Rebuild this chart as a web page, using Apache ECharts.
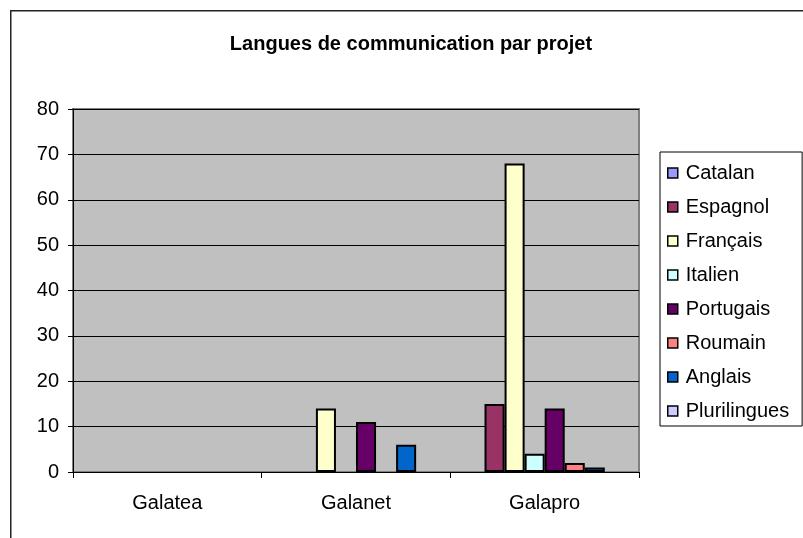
<!DOCTYPE html>
<html>
<head>
<meta charset="utf-8">
<script src="https://cdn.jsdelivr.net/npm/echarts@6/dist/echarts.min.js"></script>
<style>
html,body{margin:0;padding:0;background:#fff;}
#chart{width:803px;height:538px;}
</style>
</head>
<body>
<div id="chart"></div>
<script>
var categories = ['Galatea', 'Galanet', 'Galapro'];
var seriesNames = ['Catalan', 'Espagnol', 'Français', 'Italien', 'Portugais', 'Roumain', 'Anglais', 'Plurilingues'];
var catalan = [null, null, null];
var espagnol = [null, null, 15];
var francais = [null, 14, 68];
var italien = [null, null, 4];
var portugais = [null, 11, 14];
var roumain = [null, null, 2];
var anglais = [null, 6, 1];
var plurilingues = [null, null, null];
var yTicks = [0, 10, 20, 30, 40, 50, 60, 70, 80];

var values = [catalan, espagnol, francais, italien, portugais, roumain, anglais, plurilingues];
var colors = ['#9999FF', '#993366', '#FFFFCC', '#CCFFFF', '#660066', '#FF8080', '#0066CC', '#CCCCFF'];
var FONT = '"Liberation Sans", Arial, sans-serif';

var chart = echarts.init(document.getElementById('chart'), null, {renderer: 'canvas'});
var series = seriesNames.map(function (n, i) {
  return {
    name: n,
    type: 'bar',
    data: values[i],
    barGap: '0%',
    barCategoryGap: '15%',
    itemStyle: {color: colors[i], borderColor: '#000', borderWidth: 2},
    emphasis: {disabled: true},
    animation: false
  };
});

chart.setOption({
  animation: false,
  textStyle: {fontFamily: FONT},
  title: {
    text: 'Langues de communication par projet',
    left: 406, top: 29, textAlign: 'center',
    textStyle: {fontFamily: FONT, fontSize: 20, fontWeight: 'bold', color: '#000'}
  },
  graphic: [{
    type: 'rect', left: 10, top: 10, z: -10,
    shape: {x: 0, y: 0, width: 820, height: 560},
    style: {fill: '#fff', stroke: '#222', lineWidth: 1.5}
  }],
  legend: {
    orient: 'vertical',
    left: 660, top: 152,
    padding: [10, 13, 4, 7],
    itemWidth: 10, itemHeight: 10,
    itemGap: 12,
    borderColor: '#000', borderWidth: 1,
    backgroundColor: '#fff',
    icon: 'rect',
    itemStyle: {borderColor: '#000', borderWidth: 1.5},
    textStyle: {fontFamily: FONT, fontSize: 20, color: '#000', lineHeight: 22, padding: [0, 0, 0, 3]},
    data: seriesNames
  },
  grid: {
    left: 73, top: 109, right: 164, bottom: 66,
    show: true, backgroundColor: '#C0C0C0', borderColor: '#808080', borderWidth: 2
  },
  xAxis: {
    type: 'category',
    data: categories,
    axisLine: {lineStyle: {color: '#000', width: 1}},
    axisTick: {show: true, length: 6, interval: 0, alignWithLabel: false, lineStyle: {color: '#000'}},
    axisLabel: {fontFamily: FONT, fontSize: 20, color: '#000', margin: 21}
  },
  yAxis: {
    type: 'value',
    min: yTicks[0], max: yTicks[yTicks.length - 1], interval: 10,
    axisLine: {show: true, lineStyle: {color: '#000', width: 1}},
    axisTick: {show: true, length: 5, lineStyle: {color: '#000'}},
    splitLine: {show: true, lineStyle: {color: '#000', width: 1}},
    axisLabel: {fontFamily: FONT, fontSize: 20, color: '#000', margin: 14}
  },
  series: series
});
</script>
</body>
</html>
